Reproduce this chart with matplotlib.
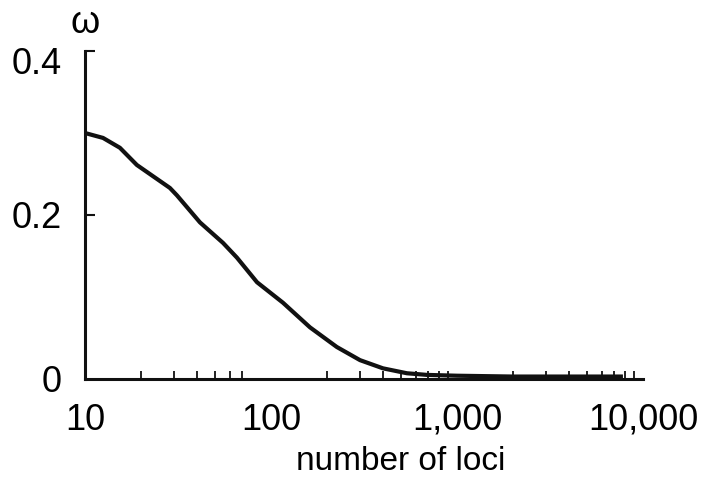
import numpy as np
import matplotlib.pyplot as plt
import matplotlib.transforms as mtransforms
from matplotlib.ticker import FixedLocator, NullFormatter

plt.rcParams['font.family'] = ['Liberation Sans', 'DejaVu Sans']

# curve
loci = [10, 12.5, 15.4, 19.0, 28.6, 31.2, 41.5, 55.2, 65.6, 84.1, 116, 162,
        226, 301, 400, 538, 690, 1000, 2000, 5000, 7800]
omega = [0.300, 0.294, 0.282, 0.261, 0.233, 0.224, 0.191, 0.166, 0.148, 0.118,
         0.093, 0.063, 0.039, 0.023, 0.013, 0.007, 0.005, 0.004, 0.003, 0.003, 0.003]

major_x = [10, 100, 1000, 10000]
major_lbl = ["10", "100", "1,000", "10,000"]
minor_x = [20, 30, 40, 50, 60, 70, 200, 300, 400, 500, 600, 700, 800, 900,
           2000, 3000, 4000, 5000, 6000, 7000, 8000, 9000, 10000]
y_ticks = [0, 0.2, 0.4]
y_lbl = ["0", "0.2", "0.4"]

fig = plt.figure(figsize=(7.11, 4.8), dpi=100)
ax = fig.add_axes([85/711, 101/480, 558/711, 328/480])

ax.plot(loci, omega, color='#111111', lw=3.0, solid_capstyle='butt')

ax.set_xscale('log')
ax.set_xlim(10, 10000)
ax.set_ylim(0, 0.4)

for s in ['top', 'right']:
    ax.spines[s].set_visible(False)
for s in ['left', 'bottom']:
    ax.spines[s].set_linewidth(2.2)
    ax.spines[s].set_color('#111111')

ax.xaxis.set_major_locator(FixedLocator(major_x))
ax.set_xticklabels(major_lbl)
ax.xaxis.set_minor_locator(FixedLocator(minor_x))
ax.xaxis.set_minor_formatter(NullFormatter())
ax.tick_params(axis='x', which='major', length=0, pad=17, labelsize=26)
ax.tick_params(axis='x', which='minor', direction='in', length=6, width=1.3,
               color='#111111')

ax.set_yticks(y_ticks)
ax.set_yticklabels(y_lbl)
ax.tick_params(axis='y', direction='in', length=7, width=1.5, pad=17,
               labelsize=26, color='#111111')
ax.yaxis.get_major_ticks()[0].tick1line.set_visible(False)
# top label sits a little below its tick in the original
top_lbl = ax.get_yticklabels()[-1]
top_lbl.set_transform(top_lbl.get_transform() +
                      mtransforms.ScaledTranslation(0, -7/72, fig.dpi_scale_trans))

ax.set_xlabel("number of loci", fontsize=24)
ax.xaxis.set_label_coords(0.566, -0.205)

ax.text(0.0, 1.085, "ω", transform=ax.transAxes, ha='center', va='center',
        fontsize=27)

fig.savefig("out.png", dpi=100)
